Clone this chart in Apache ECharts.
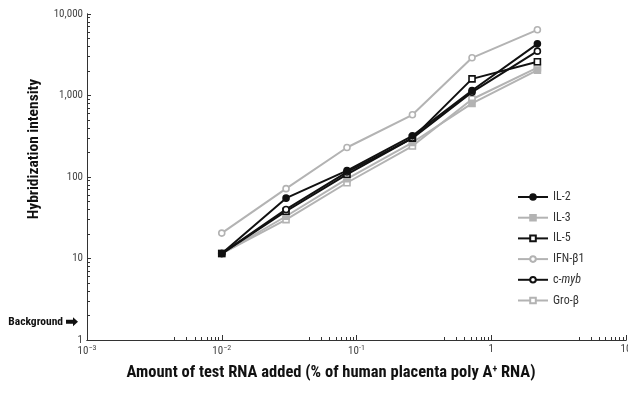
<!DOCTYPE html>
<html><head><meta charset="utf-8">
<script src="https://cdn.jsdelivr.net/npm/echarts@6/dist/echarts.min.js"></script>
<style>html,body{margin:0;padding:0;background:#fff;overflow:hidden}#c{width:628px;height:393px}</style>
</head><body><div id="c"></div>
<script>
// ---- data ----
const amounts = [0.01, 0.03, 0.085, 0.26, 0.72, 2.2];
const il2   = [11.5, 55, 120, 320, 1150, 4300];
const il3   = [11.5, 33, 95, 265, 800, 2050];
const il5   = [11.5, 38, 108, 300, 1600, 2600];
const ifnb1 = [20.5, 72, 230, 580, 2900, 6400];
const cmyb  = [11.5, 40, 115, 300, 1100, 3500];
const grob  = [11.5, 30, 85, 240, 900, 2200];
const seriesNames = ['IL-2', 'IL-3', 'IL-5', 'IFN-\u03b21', 'c-myb', 'Gro-\u03b2'];
const xMajorTicks = [0.001, 0.01, 0.1, 1, 10];
const xTickLabels = ['10{s|\u22123}', '10{s|\u22122}', '10{s|-1}', '1', '10'];
const xMinorFactors = [4.47, 5.48, 6.32, 7.07, 7.75, 8.37, 8.94, 9.49];
const yMajorTicks = [1, 10, 100, 1000, 10000];
const yTickLabels = ['1', '10', '100', '1,000', '10,000'];
const yMinorFactors = [2, 3, 4, 5, 6, 7, 8, 9];
const backgroundLevel = 1.68;
const xTitle = 'Amount of test RNA added (% of human placenta poly A{s|+} RNA)';
const yTitle = 'Hybridization intensity';

const FONT = '"Liberation Sans Narrow", "Arial Narrow", "Roboto Condensed", "Liberation Sans", sans-serif';
const BLACK = '#111', GREY = '#b3b3b3';

const xMinor = [], yMinor = [];
for (let i = 0; i < xMajorTicks.length - 1; i++) xMinorFactors.forEach(f => xMinor.push(xMajorTicks[i] * f));
for (let i = 0; i < yMajorTicks.length - 1; i++) yMinorFactors.forEach(f => yMinor.push(yMajorTicks[i] * f));

function lookup(ticks, labels, v) {
  for (let i = 0; i < ticks.length; i++) if (Math.abs(Math.log10(v) - Math.log10(ticks[i])) < 1e-6) return labels[i];
  return '';
}

function mk(name, vals, color, symbol, filled, z) {
  return {
    name, type: 'line', xAxisIndex: 0, yAxisIndex: 0,
    data: amounts.map((a, i) => [a, vals[i]]),
    symbol, symbolSize: 6, showSymbol: true, z,
    lineStyle: { color, width: 2 },
    itemStyle: { color: filled ? color : '#fff', borderColor: color, borderWidth: 1.6 },
    emphasis: { disabled: true }
  };
}

const chart = echarts.init(document.getElementById('c'), null, { renderer: 'canvas' });
const grid = { left: 87, right: 2, top: 14, bottom: 53, containLabel: false, outerBoundsMode: 'none' };
const option = {
  animation: false,
  backgroundColor: '#fff',
  textStyle: { fontFamily: FONT },
  grid,
  xAxis: [{
    type: 'log', logBase: 10, min: 0.001, max: 10, position: 'bottom',
    axisLine: { lineStyle: { color: '#333', width: 1 } },
    axisTick: { inside: true, length: 5, customValues: xMajorTicks, lineStyle: { color: '#333' } },
    axisLabel: {
      customValues: xMajorTicks, color: '#444', fontSize: 11, fontFamily: FONT, margin: 4,
      hideOverlap: false,
      formatter: v => lookup(xMajorTicks, xTickLabels, v),
      rich: { s: { fontSize: 8, fontFamily: FONT, color: '#444', padding: [0, 0, 7, 0] } }
    },
    splitLine: { show: false }, minorTick: { show: false }
  }, {
    type: 'log', logBase: 10, min: 0.001, max: 10, position: 'bottom',
    axisLine: { show: true, lineStyle: { color: '#333', width: 1 } },
    axisTick: { show: true, inside: true, length: 3, customValues: xMinor, lineStyle: { color: '#333' } },
    axisLabel: { show: false }, splitLine: { show: false }
  }],
  yAxis: [{
    type: 'log', logBase: 10, min: 1, max: 10000, position: 'left',
    axisLine: { show: true, lineStyle: { color: '#333', width: 1 } },
    axisTick: { show: true, inside: true, length: 4, customValues: yMajorTicks, lineStyle: { color: '#333' } },
    axisLabel: {
      customValues: yMajorTicks, color: '#444', fontSize: 11, fontFamily: FONT, margin: 4,
      formatter: v => lookup(yMajorTicks, yTickLabels, v)
    },
    splitLine: { show: false }
  }, {
    type: 'log', logBase: 10, min: 1, max: 10000, position: 'left',
    axisLine: { show: true, lineStyle: { color: '#333', width: 1 } },
    axisTick: { show: true, inside: true, length: 3, customValues: yMinor, lineStyle: { color: '#333' } },
    axisLabel: { show: false }, splitLine: { show: false }
  }],
  legend: {
    orient: 'vertical', left: 512, top: 186, itemWidth: 30, itemHeight: 7, itemGap: 8.7,
    data: seriesNames,
    textStyle: { fontFamily: FONT, fontSize: 12, color: '#333',
      rich: { i: { fontStyle: 'italic', fontFamily: FONT, fontSize: 12, color: '#333' } } },
    formatter: n => n === 'c-myb' ? 'c-{i|myb}' : n
  },
  series: [
    mk(seriesNames[3], ifnb1, GREY, 'circle', false, 2),
    mk(seriesNames[5], grob, GREY, 'rect', false, 2),
    mk(seriesNames[1], il3, GREY, 'rect', true, 2),
    mk(seriesNames[2], il5, BLACK, 'rect', false, 3),
    mk(seriesNames[4], cmyb, BLACK, 'circle', false, 3),
    mk(seriesNames[0], il2, BLACK, 'circle', true, 4)
  ]
};
chart.setOption(option);

const bgY = chart.convertToPixel({ yAxisIndex: 0 }, backgroundLevel);
chart.setOption({
  graphic: [
    { type: 'text', x: 331, y: 373,
      style: { text: xTitle, fontFamily: FONT, fontSize: 16.5, fontWeight: 'bold', fill: '#111',
        align: 'center', verticalAlign: 'middle',
        rich: { s: { fontFamily: FONT, fontSize: 10, fontWeight: 'bold', fill: '#111', padding: [0, 0, 8, 0] } } } },
    { type: 'text', x: 34, y: 149, rotation: Math.PI / 2,
      style: { text: yTitle, fontFamily: FONT, fontSize: 15.5, fontWeight: 'bold', fill: '#111',
        align: 'center', verticalAlign: 'middle' } },
    { type: 'text', x: 63, y: bgY,
      style: { text: 'Background', fontFamily: FONT, fontSize: 11.5, fontWeight: 'bold', fill: '#111',
        align: 'right', verticalAlign: 'middle' } },
    { type: 'polygon', x: 66, y: bgY,
      shape: { points: [[0, -2], [7, -2], [7, -4.5], [12, 0], [7, 4.5], [7, 2], [0, 2]] },
      style: { fill: '#111' } }
  ]
});
</script></body></html>
